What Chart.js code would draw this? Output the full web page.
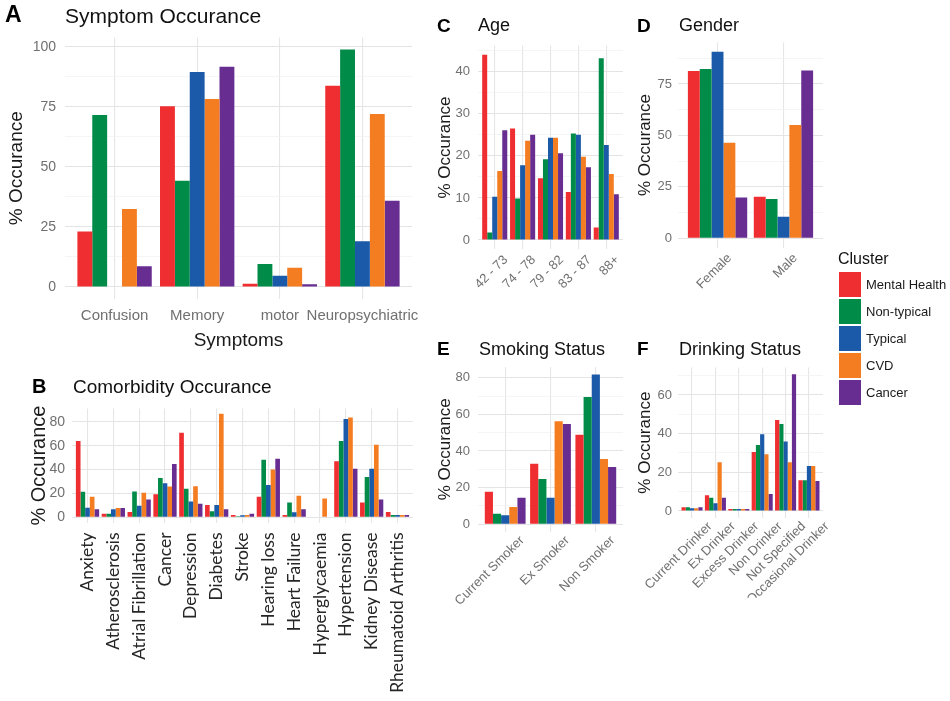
<!DOCTYPE html>
<html>
<head>
<meta charset="utf-8">
<script src="https://cdn.jsdelivr.net/npm/chart.js@4.4.0/dist/chart.umd.min.js"></script>
<style>
html,body{margin:0;padding:0;background:#fff;}
#wrap{position:relative;width:950px;height:701px;overflow:hidden;font-family:"Liberation Sans",Arial,sans-serif;}
#wrap canvas{position:absolute;left:0;top:0;}
.t{position:absolute;white-space:nowrap;color:#111;line-height:1;}
.b{font-weight:bold;color:#000;}
.key{position:absolute;width:22px;height:25px;}
</style>
</head>
<body>
<div id="wrap"></div>
<script>
// ---------------- DATA ----------------
const clusters = ['Mental Health', 'Non-typical', 'Typical', 'CVD', 'Cancer'];
const clusterColors = ['#EE2E30', '#008B48', '#1A5AA8', '#F47D22', '#672D91'];

const symptomCategories = ['Confusion', 'Memory', 'motor', 'Neuropsychiatric'];
const symptomMentalHealth = [23.1, 75.3, 1.4, 83.8];
const symptomNonTypical   = [71.6, 44.2, 9.6, 98.9];
const symptomTypical      = [0, 89.5, 4.7, 19.1];
const symptomCVD          = [32.5, 78.3, 8.0, 72.0];
const symptomCancer       = [8.6, 91.7, 1.2, 35.9];
const symptomTicks = [0, 25, 50, 75, 100];

const comorbidityCategories = ['Anxiety', 'Atherosclerosis', 'Atrial Fibrillation', 'Cancer', 'Depression', 'Diabetes', 'Stroke', 'Hearing loss', 'Heart Failure', 'Hyperglycaemia', 'Hypertension', 'Kidney Disease', 'Rheumatoid Arthritis'];
const comorbidityMentalHealth = [63.9, 3.0, 4.4, 19.4, 70.8, 10.3, 1.9, 17.2, 1.9, 0, 46.9, 12.5, 4.4];
const comorbidityNonTypical   = [21.4, 3.0, 21.7, 33.0, 23.9, 5.0, 0.8, 48.3, 12.5, 0, 63.9, 33.9, 1.9];
const comorbidityTypical      = [8.1, 6.7, 9.7, 28.6, 13.3, 10.3, 1.7, 27.2, 4.2, 0, 82.5, 40.8, 1.9];
const comorbidityCVD          = [17.2, 7.8, 20.6, 25.8, 26.1, 86.8, 1.9, 40.0, 18.0, 15.8, 83.6, 60.8, 1.9];
const comorbidityCancer       = [6.7, 7.8, 15.0, 44.7, 11.4, 6.7, 3.0, 49.2, 6.7, 0, 40.8, 15.0, 1.9];
const comorbidityTicks = [0, 20, 40, 60, 80];

const ageCategories = ['42 - 73', '74 - 78', '79 - 82', '83 - 87', '88+'];
const ageMentalHealth = [44.0, 26.5, 14.7, 11.4, 3.0];
const ageNonTypical   = [1.8, 9.9, 19.2, 25.3, 43.2];
const ageTypical      = [10.3, 17.8, 24.3, 25.0, 22.6];
const ageCVD          = [16.4, 23.6, 24.3, 19.8, 15.7];
const ageCancer       = [26.1, 25.0, 20.6, 17.3, 10.9];
const ageTicks = [0, 10, 20, 30, 40];

const genderCategories = ['Female', 'Male'];
const genderMentalHealth = [81.3, 20.2];
const genderNonTypical   = [82.3, 19.1];
const genderTypical      = [90.7, 10.5];
const genderCVD          = [46.5, 55.1];
const genderCancer       = [19.8, 81.6];
const genderTicks = [0, 25, 50, 75];

const smokingCategories = ['Current Smoker', 'Ex Smoker', 'Non Smoker'];
const smokingMentalHealth = [17.8, 33.1, 48.9];
const smokingNonTypical   = [5.8, 24.7, 69.5];
const smokingTypical      = [4.9, 14.5, 81.8];
const smokingCVD          = [9.5, 56.2, 35.6];
const smokingCancer       = [14.5, 54.7, 31.3];
const smokingTicks = [0, 20, 40, 60, 80];

const drinkingCategories = ['Current Drinker', 'Ex Drinker', 'Excess Drinker', 'Non Drinker', 'Not Specified', 'Occasional Drinker'];
const drinkingMentalHealth = [1.9, 8.1, 1.0, 30.5, 47.1, 15.9];
const drinkingNonTypical   = [1.9, 6.9, 1.0, 34.1, 45.0, 15.9];
const drinkingTypical      = [1.4, 4.0, 1.0, 39.7, 36.0, 23.3];
const drinkingCVD          = [1.4, 25.2, 1.0, 29.3, 25.2, 23.3];
const drinkingCancer       = [1.9, 6.9, 1.0, 8.8, 70.7, 15.5];
const drinkingTicks = [0, 20, 40, 60];

// ---------------- RENDERING ----------------
Chart.defaults.font.family = '"Liberation Sans", Arial, sans-serif';
const wrap = document.getElementById('wrap');
const W = 950, H = 701;
const tickGray = '#707070';

function panel(cats, series, ticks, L) {
  const [l, t, r, b] = L.plot;
  const n = cats.length;
  const dataMax = Math.max(...series.flat());
  const yMax = dataMax * 1.05, yMin = -dataMax * 0.05;
  const step = ticks[1] - ticks[0];
  const gridVals = [];
  ticks.forEach(v => { gridVals.push(v); if (v + step / 2 <= yMax) gridVals.push(v + step / 2); });

  const canvas = document.createElement('canvas');
  canvas.width = W; canvas.height = H;
  wrap.appendChild(canvas);

  new Chart(canvas, {
    type: 'bar',
    data: {
      datasets: series.map((vals, k) => ({
        label: clusters[k],
        backgroundColor: clusterColors[k],
        borderWidth: 0,
        categoryPercentage: 0.9,
        barPercentage: 1.0,
        data: vals.map((v, i) => ({ x: i + 1, y: v }))
      }))
    },
    options: {
      responsive: false,
      animation: false,
      devicePixelRatio: 1,
      layout: { padding: { left: l - L.yW, top: t, right: W - r, bottom: H - b - L.xH } },
      plugins: { legend: { display: false }, tooltip: { enabled: false } },
      scales: {
        x: {
          type: 'linear', min: 0.4, max: n + 0.6, offset: false, bounds: 'data',
          afterBuildTicks: s => { s.ticks = cats.map((c, i) => ({ value: i + 1 })); },
          afterFit: s => { s.height = L.xH; },
          ticks: {
            autoSkip: false, minRotation: L.rot, maxRotation: L.rot,
            padding: L.xTickPad, labelOffset: L.labelOffset || 0,
            color: L.xColor || tickGray,
            font: { size: L.xTickSize, family: L.xFamily || Chart.defaults.font.family },
            callback: v => cats[Math.round(v) - 1]
          },
          grid: { offset: false, drawTicks: false, color: '#e6e6e6', lineWidth: 1.1 },
          border: { display: false },
          title: L.xTitle ? { display: true, text: L.xTitle, color: '#1a1a1a', font: { size: L.xTitleSize }, padding: 0 } : { display: false }
        },
        y: {
          type: 'linear', min: yMin, max: yMax, bounds: 'data',
          afterBuildTicks: s => { s.ticks = gridVals.map(v => ({ value: v })); },
          afterFit: s => { s.width = L.yW; },
          ticks: {
            padding: L.yTickPad, color: tickGray, font: { size: L.yTickSize },
            callback: v => ticks.includes(v) ? String(v) : ''
          },
          grid: {
            drawTicks: false,
            color: c => ticks.includes(c.tick.value) ? '#e4e4e4' : '#f0f0f0',
            lineWidth: c => ticks.includes(c.tick.value) ? 1.1 : 0.7
          },
          border: { display: false },
          title: { display: true, text: '% Occurance', color: '#1a1a1a', font: { size: L.yTitleSize }, padding: 0 }
        }
      }
    }
  });
}

panel(symptomCategories,
  [symptomMentalHealth, symptomNonTypical, symptomTypical, symptomCVD, symptomCancer], symptomTicks,
  { plot: [65, 37.6, 412, 298.9], yW: 60, xH: 53, yTitleSize: 19, yTickSize: 14, yTickPad: 9,
    xTickSize: 15, xTickPad: 8, rot: 0, xTitle: 'Symptoms', xTitleSize: 19 });

panel(comorbidityCategories,
  [comorbidityMentalHealth, comorbidityNonTypical, comorbidityTypical, comorbidityCVD, comorbidityCancer], comorbidityTicks,
  { plot: [72, 408.6, 413, 522.5], yW: 45, xH: 178.5, yTitleSize: 20, yTickSize: 14, yTickPad: 7,
    xTickSize: 17.5, xTickPad: 10, rot: 90, xFamily: 'Lato, "Open Sans", sans-serif', xColor: '#262626' });

panel(ageCategories,
  [ageMentalHealth, ageNonTypical, ageTypical, ageCVD, ageCancer], ageTicks,
  { plot: [478, 45.6, 623, 249.3], yW: 42.7, xH: 60, yTitleSize: 17, yTickSize: 13, yTickPad: 8,
    xTickSize: 13, xTickPad: 3, rot: 45, labelOffset: 11 });

panel(genderCategories,
  [genderMentalHealth, genderNonTypical, genderTypical, genderCVD, genderCancer], genderTicks,
  { plot: [678, 42.4, 823, 247.6], yW: 42.7, xH: 60, yTitleSize: 17, yTickSize: 13, yTickPad: 6,
    xTickSize: 13, xTickPad: 3, rot: 45, labelOffset: 12 });

panel(smokingCategories,
  [smokingMentalHealth, smokingNonTypical, smokingTypical, smokingCVD, smokingCancer], smokingTicks,
  { plot: [478, 366.9, 623, 531.8], yW: 42.7, xH: 80, yTitleSize: 17, yTickSize: 13, yTickPad: 8,
    xTickSize: 13, xTickPad: 1, rot: 45, labelOffset: 17 });

panel(drinkingCategories,
  [drinkingMentalHealth, drinkingNonTypical, drinkingTypical, drinkingCVD, drinkingCancer], drinkingTicks,
  { plot: [678, 367.5, 823, 517.8], yW: 42.7, xH: 80, yTitleSize: 17, yTickSize: 13, yTickPad: 6,
    xTickSize: 13, xTickPad: 1, rot: 45, labelOffset: 18 });

// ---------------- TITLES & LEGEND ----------------
function text(str, x, baseline, size, cls) {
  const d = document.createElement('div');
  d.className = 't ' + (cls || '');
  d.textContent = str;
  d.style.left = x + 'px';
  d.style.top = (baseline - 0.8465 * size) + 'px';
  d.style.fontSize = size + 'px';
  wrap.appendChild(d);
  return d;
}
text('A', 5, 22, 23, 'b');   text('Symptom Occurance', 65, 22.5, 21);
text('B', 32, 393.3, 20, 'b'); text('Comorbidity Occurance', 73, 393.3, 19);
text('C', 437, 31.7, 19, 'b'); text('Age', 478, 31.7, 18);
text('D', 637, 31.7, 19, 'b'); text('Gender', 679, 31.7, 18);
text('E', 437, 355, 19, 'b'); text('Smoking Status', 479, 355, 18);
text('F', 637, 355, 19, 'b'); text('Drinking Status', 679, 355, 18);

text('Cluster', 838, 265, 16);
clusters.forEach((name, k) => {
  const top = 272 + 27 * k;
  const box = document.createElement('div');
  box.className = 'key';
  box.style.left = '839px';
  box.style.top = top + 'px';
  box.style.background = clusterColors[k];
  wrap.appendChild(box);
  text(name, 866, top + 17, 13).style.color = '#1a1a1a';
});
</script>
</body>
</html>
